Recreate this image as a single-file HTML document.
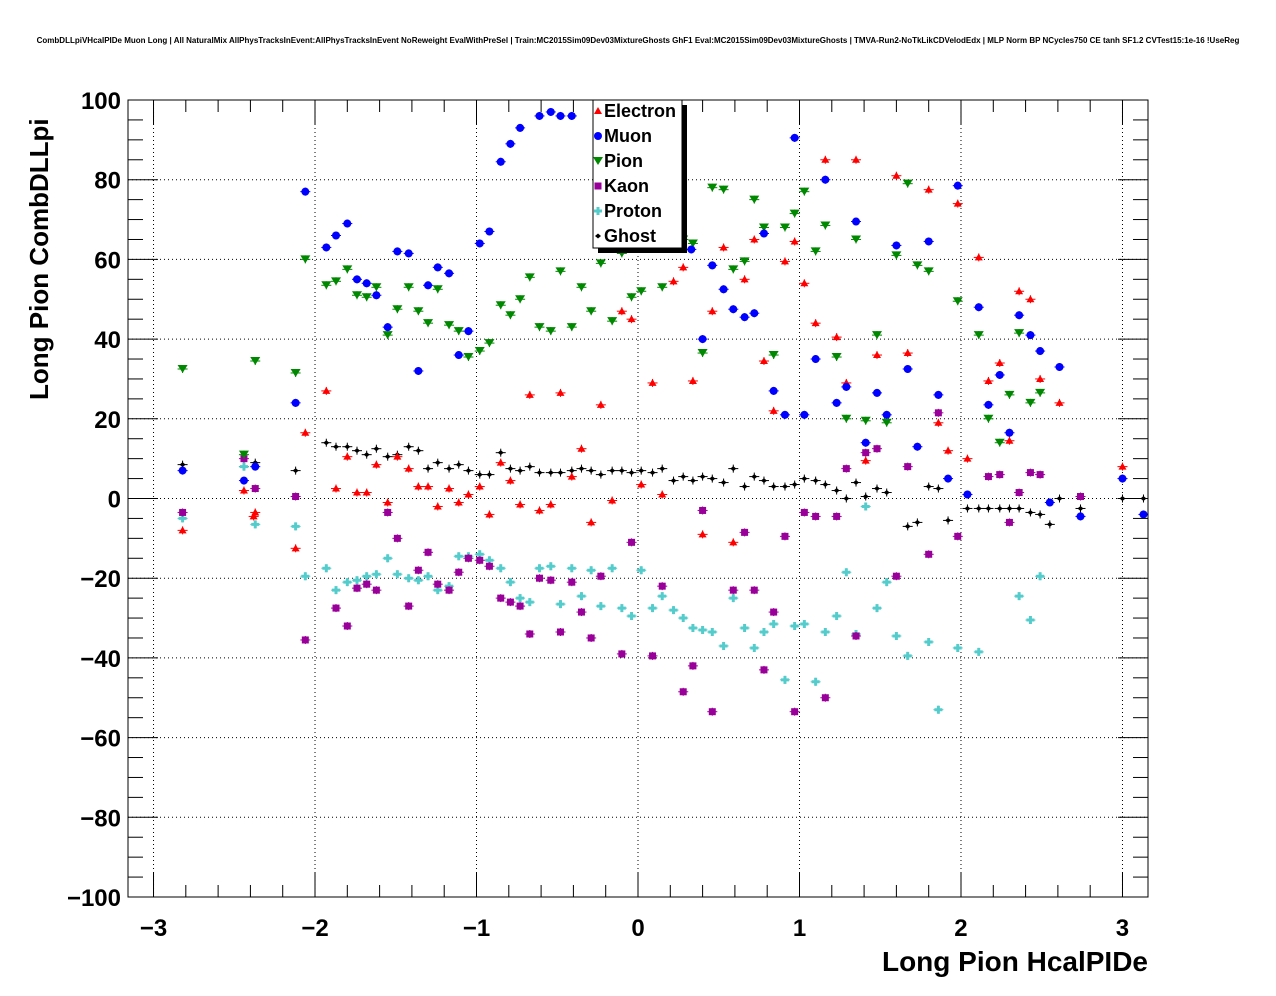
<!DOCTYPE html>
<html><head><meta charset="utf-8"><style>
body{margin:0;background:#fff;}
svg{display:block;font-family:"Liberation Sans",Arial,sans-serif;}
</style></head><body>
<svg id="c" width="1276" height="996">
<rect width="1276" height="996" fill="#fff"/>
<text x="638" y="43" text-anchor="middle" font-size="8" font-weight="bold">CombDLLpiVHcalPIDe Muon Long | All NaturalMix AllPhysTracksInEvent:AllPhysTracksInEvent NoReweight EvalWithPreSel | Train:MC2015Sim09Dev03MixtureGhosts GhF1 Eval:MC2015Sim09Dev03MixtureGhosts | TMVA-Run2-NoTkLikCDVelodEdx | MLP Norm BP NCycles750 CE tanh SF1.2 CVTest15:1e-16 !UseReg</text>
<g id="grid"></g>
<g id="marks"></g>
<g id="axes"></g>
<text x="1148" y="971" text-anchor="end" font-size="28" font-weight="bold">Long Pion HcalPIDe</text>
<text transform="translate(48,400) rotate(-90)" font-size="26" font-weight="bold">Long Pion CombDLLpi</text>
<g id="legend"></g>
</svg>
<script>
const xTicks=[-3,-2,-1,0,1,2,3];
const yTicks=[-100,-80,-60,-40,-20,0,20,40,60,80,100];
const seriesNames=["Electron","Muon","Pion","Kaon","Proton","Ghost"];
const muon=[[-2.82,7],[-2.44,4.5],[-2.37,8],[-2.12,24],[-2.06,77],[-1.93,63],[-1.87,66],[-1.80,69],[-1.74,55],[-1.68,54],[-1.62,51],[-1.55,43],[-1.49,62],[-1.42,61.5],[-1.36,32],[-1.30,53.5],[-1.24,58],[-1.17,56.5],[-1.11,36],[-1.05,42],[-0.98,64],[-0.92,67],[-0.85,84.5],[-0.79,89],[-0.73,93],[-0.61,96],[-0.54,97],[-0.48,96],[-0.41,96],[0.33,62.5],[0.40,40],[0.46,58.5],[0.53,52.5],[0.59,47.5],[0.66,45.5],[0.72,46.5],[0.78,66.5],[0.84,27],[0.91,21],[0.97,90.5],[1.03,21],[1.10,35],[1.16,80],[1.23,24],[1.29,28],[1.35,69.5],[1.41,14],[1.48,26.5],[1.54,21],[1.60,63.5],[1.67,32.5],[1.73,13],[1.80,64.5],[1.86,26],[1.92,5],[1.98,78.5],[2.04,1],[2.11,48],[2.17,23.5],[2.24,31],[2.30,16.5],[2.36,46],[2.43,41],[2.49,37],[2.55,-1],[2.61,33],[2.74,-4.5],[3.00,5],[3.13,-4]];
const electron=[[-2.82,-8],[-2.44,2],[-2.37,-3.5],[-2.38,-4.5],[-2.12,-12.5],[-2.06,16.5],[-1.93,27],[-1.87,2.5],[-1.80,10.5],[-1.74,1.5],[-1.68,1.5],[-1.62,8.5],[-1.55,-1],[-1.49,10.5],[-1.42,7.5],[-1.36,3],[-1.30,3],[-1.24,-2],[-1.17,2.5],[-1.11,-1],[-1.05,1],[-0.98,3],[-0.92,-4],[-0.85,9],[-0.79,4.5],[-0.73,-1.5],[-0.67,26],[-0.61,-3],[-0.54,-1.5],[-0.48,26.5],[-0.41,5.5],[-0.35,12.5],[-0.29,-6],[-0.23,23.5],[-0.16,-0.5],[-0.10,47],[-0.04,45],[0.02,3.5],[0.09,29],[0.15,1],[0.22,54.5],[0.28,58],[0.34,29.5],[0.40,-9],[0.46,47],[0.53,63],[0.59,-11],[0.66,55],[0.72,65],[0.78,34.5],[0.84,22],[0.91,59.5],[0.97,64.5],[1.03,54],[1.10,44],[1.16,85],[1.23,40.5],[1.29,29],[1.35,85],[1.41,9.5],[1.48,36],[1.60,81],[1.67,36.5],[1.80,77.5],[1.86,19],[1.92,12],[1.98,74],[2.04,10],[2.11,60.5],[2.17,29.5],[2.24,34],[2.30,14.5],[2.36,52],[2.43,50],[2.49,30],[2.61,24],[3.00,8]];
const pion=[[-2.82,32.5],[-2.44,11],[-2.37,34.5],[-2.12,31.5],[-2.06,60],[-1.93,53.5],[-1.87,54.5],[-1.80,57.5],[-1.74,51],[-1.68,50.5],[-1.62,53],[-1.55,41],[-1.49,47.5],[-1.42,53],[-1.36,47],[-1.30,44],[-1.24,52.5],[-1.17,43.5],[-1.11,42],[-1.05,35.5],[-0.98,37],[-0.92,39],[-0.85,48.5],[-0.79,46],[-0.73,50],[-0.67,55.5],[-0.61,43],[-0.54,42],[-0.48,57],[-0.41,43],[-0.35,53],[-0.29,47],[-0.23,59],[-0.16,44.5],[-0.10,61.5],[-0.04,50.5],[0.02,52],[0.09,64],[0.15,53],[0.22,63],[0.28,65],[0.34,64],[0.40,36.5],[0.46,78],[0.53,77.5],[0.59,57.5],[0.66,59.5],[0.72,75],[0.78,68],[0.84,36],[0.91,68],[0.97,71.5],[1.03,77],[1.10,62],[1.16,68.5],[1.23,35.5],[1.29,20],[1.35,65],[1.41,19.5],[1.48,41],[1.54,19],[1.60,61],[1.67,79],[1.73,58.5],[1.80,57],[1.98,49.5],[2.11,41],[2.17,20],[2.24,14],[2.30,26],[2.36,41.5],[2.43,24],[2.49,26.5]];
const kaon=[[-2.82,-3.5],[-2.44,10],[-2.37,2.5],[-2.12,0.5],[-2.06,-35.5],[-1.87,-27.5],[-1.80,-32],[-1.74,-22.5],[-1.68,-21.5],[-1.62,-23],[-1.55,-3.5],[-1.49,-10],[-1.42,-27],[-1.36,-18],[-1.30,-13.5],[-1.24,-21.5],[-1.17,-23],[-1.11,-18.5],[-1.05,-15],[-0.98,-15.5],[-0.92,-17],[-0.85,-25],[-0.79,-26],[-0.73,-27],[-0.67,-34],[-0.61,-20],[-0.54,-20.5],[-0.48,-33.5],[-0.41,-21],[-0.35,-28.5],[-0.29,-35],[-0.23,-19.5],[-0.10,-39],[-0.04,-11],[0.09,-39.5],[0.15,-22],[0.28,-48.5],[0.34,-42],[0.40,-3],[0.46,-53.5],[0.59,-23],[0.66,-8.5],[0.72,-23],[0.78,-43],[0.84,-28.5],[0.91,-9.5],[0.97,-53.5],[1.03,-3.5],[1.10,-4.5],[1.16,-50],[1.23,-4.5],[1.29,7.5],[1.35,-34.5],[1.41,11.5],[1.48,12.5],[1.60,-19.5],[1.67,8],[1.80,-14],[1.86,21.5],[1.98,-9.5],[2.17,5.5],[2.24,6],[2.30,-6],[2.36,1.5],[2.43,6.5],[2.49,6],[2.74,0.5]];
const proton=[[-2.82,-5],[-2.44,8],[-2.37,-6.5],[-2.12,-7],[-2.06,-19.5],[-1.93,-17.5],[-1.87,-23],[-1.80,-21],[-1.74,-20.5],[-1.68,-19.5],[-1.62,-19],[-1.55,-15],[-1.49,-19],[-1.42,-20],[-1.36,-20.5],[-1.30,-19.5],[-1.24,-23],[-1.17,-22],[-1.11,-14.5],[-1.05,-14.5],[-0.98,-14],[-0.92,-15.5],[-0.85,-17.5],[-0.79,-21],[-0.73,-25],[-0.67,-26],[-0.61,-17.5],[-0.54,-17],[-0.48,-26.5],[-0.41,-17.5],[-0.35,-24.5],[-0.29,-18],[-0.23,-27],[-0.16,-17.5],[-0.10,-27.5],[-0.04,-29.5],[0.02,-18],[0.09,-27.5],[0.15,-24.5],[0.22,-28],[0.28,-30],[0.34,-32.5],[0.40,-33],[0.46,-33.5],[0.53,-37],[0.59,-25],[0.66,-32.5],[0.72,-37.5],[0.78,-33.5],[0.84,-31.5],[0.91,-45.5],[0.97,-32],[1.03,-31.5],[1.10,-46],[1.16,-33.5],[1.23,-29.5],[1.29,-18.5],[1.35,-34],[1.41,-2],[1.48,-27.5],[1.54,-21],[1.60,-34.5],[1.67,-39.5],[1.80,-36],[1.86,-53],[1.98,-37.5],[2.11,-38.5],[2.36,-24.5],[2.43,-30.5],[2.49,-19.5]];
const ghost=[[-2.82,8.5],[-2.44,8],[-2.37,9],[-2.12,7],[-1.93,14],[-1.87,13],[-1.80,13],[-1.74,12],[-1.68,11],[-1.62,12.5],[-1.55,10.5],[-1.49,11],[-1.42,13],[-1.36,12],[-1.30,7.5],[-1.24,9],[-1.17,7.5],[-1.11,8.5],[-1.05,7],[-0.98,6],[-0.92,6],[-0.85,11.5],[-0.79,7.5],[-0.73,7],[-0.67,8],[-0.61,6.5],[-0.54,6.5],[-0.48,6.5],[-0.41,7],[-0.35,7.5],[-0.29,7],[-0.23,6],[-0.16,7],[-0.10,7],[-0.04,6.5],[0.02,7],[0.09,6.5],[0.15,7.5],[0.22,4.5],[0.28,5.5],[0.34,4.5],[0.40,5.5],[0.46,5],[0.53,4],[0.59,7.5],[0.66,3],[0.72,5.5],[0.78,4.5],[0.84,3],[0.91,3],[0.97,3.5],[1.03,5],[1.10,4.5],[1.16,3.5],[1.23,2],[1.29,0],[1.35,4],[1.41,0.5],[1.48,2.5],[1.54,1.5],[1.67,-7],[1.73,-6],[1.80,3],[1.86,2.5],[1.92,-5.5],[2.04,-2.5],[2.11,-2.5],[2.17,-2.5],[2.24,-2.5],[2.30,-2.5],[2.36,-2.5],[2.43,-3.5],[2.49,-4],[2.55,-6.5],[2.61,0],[2.74,-2.5],[3.00,0],[3.13,0]];

const NS="http://www.w3.org/2000/svg";
const L=128,R=1148,T=100,B=897,XMIN=-3.158,XMAX=3.158,YMIN=-100,YMAX=100;
const sx=v=>L+(v-XMIN)/(XMAX-XMIN)*(R-L);
const sy=v=>B-(v-YMIN)/(YMAX-YMIN)*(B-T);
function mk(tag,at,parent){const e=document.createElementNS(NS,tag);for(const k in at)e.setAttribute(k,at[k]);parent.appendChild(e);return e;}
const grid=document.getElementById('grid'),axes=document.getElementById('axes'),marks=document.getElementById('marks'),leg=document.getElementById('legend');
xTicks.forEach(v=>{const l=mk('line',{x1:sx(v),x2:sx(v),y1:T,y2:B,stroke:'#000','stroke-dasharray':'1,3','stroke-width':1},grid);
});
yTicks.forEach(v=>{const l=mk('line',{x1:L,x2:R,y1:sy(v),y2:sy(v),stroke:'#000','stroke-dasharray':'1,3','stroke-width':1},grid);
});
const fr=mk('rect',{x:L,y:T,width:R-L,height:B-T,fill:'none',stroke:'#000','stroke-width':1},axes);

const fmt=v=>(v<0?'\u2212':'')+Math.abs(v);
for(let v=-3.2;v<=3.2;v+=0.2){const vv=Math.round(v*10)/10;if(vv<XMIN||vv>XMAX)continue;const maj=Math.abs(vv-Math.round(vv))<1e-6;const len=maj?25:12;
mk('line',{x1:sx(vv),x2:sx(vv),y1:B,y2:B-len,stroke:'#000'},axes);mk('line',{x1:sx(vv),x2:sx(vv),y1:T,y2:T+len,stroke:'#000'},axes);}
xTicks.forEach(v=>{const t=mk('text',{x:sx(v),y:936,'text-anchor':'middle','font-size':24,'font-weight':'bold'},axes);t.textContent=fmt(v);
});
for(let v=-100;v<=100;v+=5){const maj=v%20===0;const len=maj?30:15;
mk('line',{x1:L,x2:L+len,y1:sy(v),y2:sy(v),stroke:'#000'},axes);mk('line',{x1:R,x2:R-len,y1:sy(v),y2:sy(v),stroke:'#000'},axes);}
yTicks.forEach(v=>{const t=mk('text',{x:121,y:sy(v)+9,'text-anchor':'end','font-size':24,'font-weight':'bold'},axes);t.textContent=fmt(v);
});
const colors={Electron:'#ff0000',Muon:'#0000ff',Pion:'#008800',Kaon:'#990099',Proton:'#55cccc',Ghost:'#000000'};
function marker(name,x,y,g){const c=colors[name];let e;
if(name==='Electron')e=mk('polygon',{points:`${x-4},${y+3} ${x+4},${y+3} ${x},${y-4}`,fill:c},g);
else if(name==='Muon')e=mk('circle',{cx:x,cy:y,r:4,fill:c},g);
else if(name==='Pion')e=mk('polygon',{points:`${x-5},${y-4} ${x+5},${y-4} ${x},${y+4}`,fill:c},g);
else if(name==='Kaon')e=mk('rect',{x:x-3.5,y:y-3.5,width:7,height:7,fill:c},g);
else if(name==='Proton')e=mk('path',{d:`M${x-4},${y-1.5}h2.5v-2.5h3v2.5h2.5v3h-2.5v2.5h-3v-2.5h-2.5z`,fill:c},g);
else e=mk('polygon',{points:`${x-3},${y} ${x},${y-2.5} ${x+3},${y} ${x},${y+2.5}`,fill:c},g);
return e;}
const data={Electron:electron,Muon:muon,Pion:pion,Kaon:kaon,Proton:proton,Ghost:ghost};
const order=["Ghost","Proton","Kaon","Pion","Electron","Muon"];
order.forEach(name=>{const g=mk('g',{},marks);


data[name].forEach(p=>{const x=sx(p[0]),y=sy(p[1]);
mk('line',{x1:sx(p[0]-0.031),x2:sx(p[0]+0.031),y1:y,y2:y,stroke:colors[name],'stroke-width':1},g);
mk('line',{x1:x,x2:x,y1:y-4,y2:y+4,stroke:colors[name],'stroke-width':1},g);
const m=marker(name,x,y,g);

});});
mk('rect',{x:598,y:105,width:89,height:148,fill:'#000'},leg);
const lb=mk('rect',{x:593,y:100,width:89,height:148,fill:'#fff',stroke:'#000'},leg);

seriesNames.forEach((n,i)=>{const y=111+i*25;const g=mk('g',{},leg);


marker(n,598,y,g);const t=mk('text',{x:604,y:y+6,'font-size':18,'font-weight':'bold'},g);t.textContent=n;});
</script>
</body></html>
